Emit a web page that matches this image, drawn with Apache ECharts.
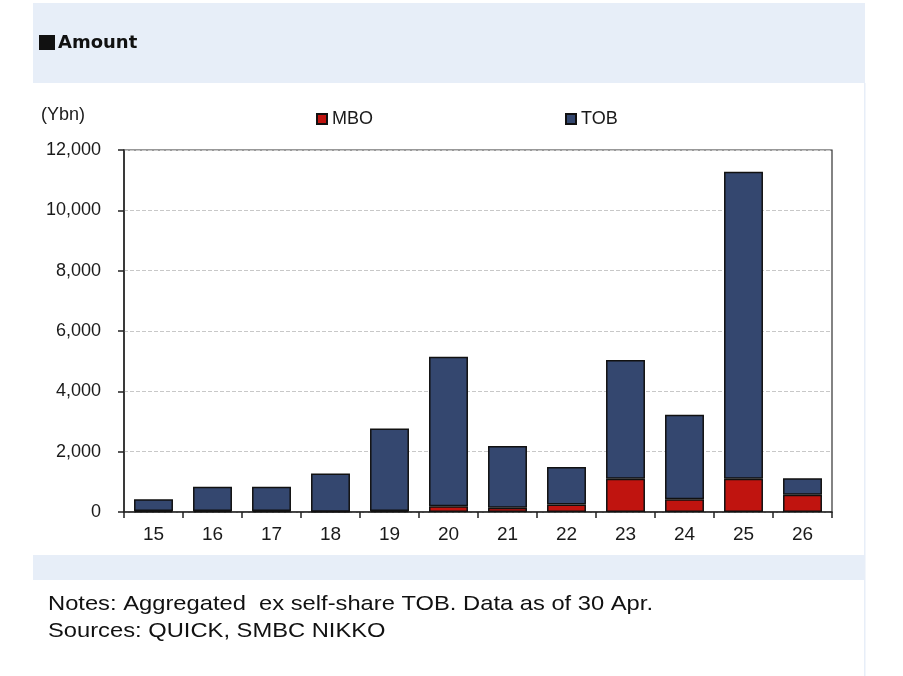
<!DOCTYPE html>
<html>
<head>
<meta charset="utf-8">
<script src="https://cdn.jsdelivr.net/npm/echarts@6/dist/echarts.min.js"></script>
<style>
html,body{margin:0;padding:0;background:#fff;}
#c{width:903px;height:676px;}
</style>
</head>
<body>
<div id="c"></div>
<script>
const categories = ['15','16','17','18','19','20','21','22','23','24','25','26'];
const mboValues = [30, 30, 30, 10, 30, 190, 140, 250, 1100, 420, 1100, 570];
const tobValues = [390, 810, 810, 1270, 2740, 4960, 2050, 1240, 3940, 2800, 10180, 550];
const yTicks = [0, 2000, 4000, 6000, 8000, 10000, 12000];
const titleText = 'Amount';
const unitText = '(Ybn)';
const notesLines = ['Notes: Aggregated  ex self-share TOB. Data as of 30 Apr.', 'Sources: QUICK, SMBC NIKKO'];

const chart = echarts.init(document.getElementById('c'), null, {renderer: 'canvas'});
const txtColor = '#1a1a1a';
const option = {
  backgroundColor: '#ffffff',
  animation: false,
  graphic: [
    {type: 'rect', shape: {x: 33, y: 3, width: 832, height: 80}, style: {fill: '#e7eef8'}, z: -10},
    {type: 'rect', shape: {x: 33, y: 555, width: 832, height: 25}, style: {fill: '#e7eef8'}, z: -10},
    {type: 'rect', shape: {x: 864, y: 83, width: 1.5, height: 593}, style: {fill: '#e7eef8'}, z: -10},
    {type: 'rect', shape: {x: 39, y: 35, width: 16, height: 15}, style: {fill: '#111'}},
    {type: 'text', x: 58, y: 43, style: {text: titleText, font: 'bold 18px "DejaVu Sans"', fill: '#111', verticalAlign: 'middle'}},
    {type: 'text', x: 41, y: 115, style: {text: unitText, font: '18px "Liberation Sans"', fill: txtColor, verticalAlign: 'middle'}},
    {type: 'text', x: 48, y: 604, scaleX: 1.13, style: {text: notesLines[0], font: '21px "Liberation Sans"', fill: '#111', verticalAlign: 'middle'}},
    {type: 'text', x: 48, y: 631, scaleX: 1.13, style: {text: notesLines[1], font: '21px "Liberation Sans"', fill: '#111', verticalAlign: 'middle'}}
  ],
  legend: [
    {data: ['MBO'], left: 316, top: 110, padding: 0, icon: 'rect', itemWidth: 10, itemHeight: 10,
     textStyle: {color: txtColor, fontSize: 18, fontFamily: 'Liberation Sans'}},
    {data: ['TOB'], left: 565, top: 110, padding: 0, icon: 'rect', itemWidth: 10, itemHeight: 10,
     textStyle: {color: txtColor, fontSize: 18, fontFamily: 'Liberation Sans'}}
  ],
  grid: {left: 124, right: 71, top: 150, bottom: 164, show: true, borderColor: '#333', borderWidth: 1.2, backgroundColor: 'transparent'},
  xAxis: {
    type: 'category',
    data: categories,
    axisLine: {lineStyle: {color: '#222', width: 1.5}},
    axisTick: {show: true, length: 6, inside: false, lineStyle: {color: '#222', width: 1.5}},
    axisLabel: {color: txtColor, fontSize: 19, fontFamily: 'Liberation Sans', margin: 13}
  },
  yAxis: {
    type: 'value',
    min: 0, max: 12000, interval: 2000,
    axisLine: {show: true, lineStyle: {color: '#222', width: 1.5}},
    axisTick: {show: true, length: 6, lineStyle: {color: '#222', width: 1.5}},
    axisLabel: {color: txtColor, fontSize: 18, fontFamily: 'Liberation Sans', margin: 23,
      formatter: v => yTicks.indexOf(v) >= 0 ? v.toLocaleString('en-US') : ''},
    splitLine: {show: true, lineStyle: {color: '#c8c8c8', type: 'dashed', width: 1}}
  },
  series: [
    {name: 'MBO', type: 'bar', stack: 'a', data: mboValues, barWidth: '66%',
     itemStyle: {color: '#c0140f', borderColor: '#111', borderWidth: 1.5}},
    {name: 'TOB', type: 'bar', stack: 'a', data: tobValues, barWidth: '66%',
     itemStyle: {color: '#34476f', borderColor: '#111', borderWidth: 1.5}}
  ]
};
chart.setOption(option);
</script>
</body>
</html>
